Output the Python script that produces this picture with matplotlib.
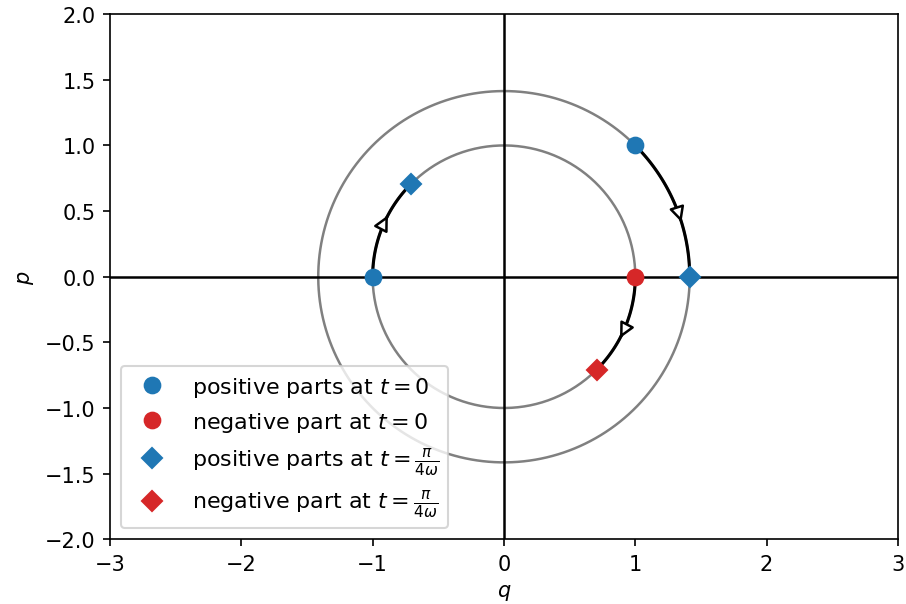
import numpy as np
import matplotlib
matplotlib.use('agg')
import matplotlib.pyplot as plt

# data
radii = [1.0, np.sqrt(2)]
pos_t0_q = [1.0, -1.0]
pos_t0_p = [1.0, 0.0]
neg_t0_q = [1.0]
neg_t0_p = [0.0]
pos_t1_q = [np.sqrt(2), -1/np.sqrt(2)]
pos_t1_p = [0.0, 1/np.sqrt(2)]
neg_t1_q = [1/np.sqrt(2)]
neg_t1_p = [-1/np.sqrt(2)]
# arcs: (radius, start angle, end angle) clockwise motion
arcs = [(np.sqrt(2), np.pi/4, 0.0), (1.0, np.pi, 3*np.pi/4), (1.0, 0.0, -np.pi/4)]

fig = plt.figure(figsize=(6.04, 4.033), dpi=150)
ax = fig.add_axes([0.1214, 0.107, 0.8697, 0.868])

th = np.linspace(0, 2*np.pi, 400)
for r in radii:
    ax.plot(r*np.cos(th), r*np.sin(th), color='gray', lw=1.2)
ax.axhline(0, color='black', lw=1.2)
ax.axvline(0, color='black', lw=1.2)

for r, a0, a1 in arcs:
    a = np.linspace(a0, a1, 100)
    ax.plot(r*np.cos(a), r*np.sin(a), color='black', lw=1.5)
    am = a0 + (a1 - a0) * 0.62
    d = (a1 - a0) * 0.02
    ax.annotate('', xy=(r*np.cos(am), r*np.sin(am)),
                xytext=(r*np.cos(am-d), r*np.sin(am-d)),
                arrowprops=dict(arrowstyle='-|>', fc='white', ec='black',
                                lw=1.2, mutation_scale=15))

ax.plot(pos_t0_q, pos_t0_p, 'o', color='tab:blue', ms=7.5, ls='none',
        label='positive parts at $t=0$', zorder=5)
ax.plot(neg_t0_q, neg_t0_p, 'o', color='tab:red', ms=7.5, ls='none',
        label='negative part at $t=0$', zorder=5)
ax.plot(pos_t1_q, pos_t1_p, 'D', color='tab:blue', ms=7, ls='none',
        label=r'positive parts at $t=\frac{\pi}{4\omega}$', zorder=5)
ax.plot(neg_t1_q, neg_t1_p, 'D', color='tab:red', ms=7, ls='none',
        label=r'negative part at $t=\frac{\pi}{4\omega}$', zorder=5)

ax.set_xlim(-3, 3)
ax.set_ylim(-2, 2)
ax.set_xticks([-3, -2, -1, 0, 1, 2, 3])
ax.set_xlabel('$q$')
ax.set_ylabel('$p$')
ax.legend(loc='lower left', numpoints=1, fontsize=10.6)
fig.savefig('out.png', dpi=150)
